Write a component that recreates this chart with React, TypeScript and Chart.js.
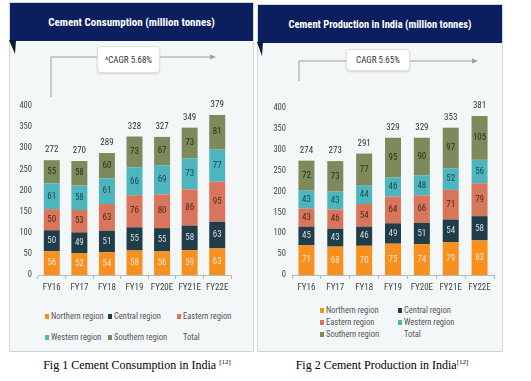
import React, { useEffect, useRef } from "react";
import { Chart, registerables } from "chart.js";
Chart.register(...registerables);

const years = ["FY16", "FY17", "FY18", "FY19", "FY20E", "FY21E", "FY22E"];
const seriesNames = ["Northern region", "Central region", "Eastern region", "Western region", "Southern region"];
const totalName = "Total";
const seriesColors = ["#f7901e", "#1f3e4a", "#d9755b", "#4db5be", "#7f8a5c"];
const labelColors = ["#fde7d2", "#d5dde0", "#4a2a20", "#1d4850", "#2b301c"];

const consNorthern = [56, 52, 54, 58, 56, 59, 63];
const consCentral = [50, 49, 51, 55, 55, 58, 63];
const consEastern = [50, 53, 63, 76, 80, 86, 95];
const consWestern = [61, 58, 61, 66, 69, 73, 77];
const consSouthern = [55, 58, 60, 73, 67, 73, 81];
const consTotal = [272, 270, 289, 328, 327, 349, 379];

const prodNorthern = [71, 68, 70, 75, 74, 79, 83];
const prodCentral = [45, 43, 46, 49, 51, 54, 58];
const prodEastern = [43, 46, 54, 64, 66, 71, 79];
const prodWestern = [43, 43, 44, 46, 48, 52, 56];
const prodSouthern = [72, 73, 77, 95, 90, 97, 105];
const prodTotal = [274, 273, 291, 329, 329, 353, 381];

const yMin = 0;
const yMax = 400;
const yStep = 50;

const consTitle = "Cement Consumption (million tonnes)";
const prodTitle = "Cement Production in India (million tonnes)";
const consCagr = "^CAGR 5.68%";
const prodCagr = "CAGR 5.65%";
const consCaption = "Fig 1 Cement Consumption in India ";
const prodCaption = "Fig 2 Cement Production in India";
const captionRef = "[12]";

const NARROW = '"Roboto Condensed", "Liberation Sans", sans-serif';
const SERIF = '"Liberation Serif", "Times New Roman", serif';

type ChartProps = {
  series: number[][];
  totals: number[];
  left: number;
  top: number;
  width: number;
  height: number;
  yAxisWidth: number;
  barPct: number;
};

function StackChart(p: ChartProps) {
  const ref = useRef<HTMLCanvasElement | null>(null);
  useEffect(() => {
    if (!ref.current) return;
    const labelPlugin = {
      id: "segLabels",
      afterDatasetsDraw(chart: any) {
        const ctx = chart.ctx;
        ctx.save();
        ctx.font = `9px ${NARROW}`;
        ctx.textAlign = "center";
        ctx.textBaseline = "middle";
        chart.data.datasets.forEach((ds: any, di: number) => {
          const meta = chart.getDatasetMeta(di);
          meta.data.forEach((el: any, i: number) => {
            const v = ds.data[i];
            ctx.fillStyle = labelColors[di];
            ctx.fillText(String(v), el.x, (el.y + el.base) / 2);
          });
        });
        const last = chart.getDatasetMeta(chart.data.datasets.length - 1);
        ctx.fillStyle = "#333";
        last.data.forEach((el: any, i: number) => {
          ctx.fillText(String(p.totals[i]), el.x, el.y - 10);
        });
        ctx.restore();
      },
    };
    const chart = new Chart(ref.current, {
      type: "bar",
      data: {
        labels: years,
        datasets: p.series.map((d, i) => ({
          label: seriesNames[i],
          data: d,
          backgroundColor: seriesColors[i],
          borderWidth: 0,
          categoryPercentage: 1,
          barPercentage: p.barPct,
        })),
      },
      options: {
        responsive: false,
        maintainAspectRatio: false,
        animation: false,
        layout: { padding: { top: 10, right: 2, left: 0, bottom: 0 } },
        plugins: { legend: { display: false }, tooltip: { enabled: false } },
        scales: {
          x: {
            stacked: true,
            offset: true,
            grid: { display: true, drawOnChartArea: false, drawTicks: true, tickLength: 4, color: "#b8b8b8", offset: true },
            border: { display: true, color: "#b8b8b8" },
            ticks: { color: "#444", font: { family: NARROW, size: 9 }, padding: 3, maxRotation: 0, autoSkip: false },
            afterFit: (s: any) => {
              s.height = 25;
            },
          },
          y: {
            stacked: true,
            min: yMin,
            max: yMax,
            ticks: { stepSize: yStep, color: "#444", font: { family: NARROW, size: 8.5 }, padding: 6 },
            grid: { display: false, drawTicks: false },
            border: { display: false },
            afterFit: (s: any) => {
              s.width = p.yAxisWidth;
            },
          },
        },
      } as any,
      plugins: [labelPlugin],
    });
    return () => chart.destroy();
  }, []);
  return (
    <canvas
      ref={ref}
      width={p.width}
      height={p.height}
      style={{ position: "absolute", left: p.left, top: p.top, width: p.width, height: p.height }}
    />
  );
}

type Pos = { x: number; y: number };

function Legend({ cells }: { cells: Pos[] }) {
  const names = [...seriesNames, totalName];
  return (
    <>
      {names.map((n, i) => (
        <div
          key={n}
          style={{
            position: "absolute",
            left: cells[i].x,
            top: cells[i].y - 6,
            height: 12,
            display: "flex",
            alignItems: "center",
            fontFamily: NARROW,
            fontSize: 8.5,
            color: "#555",
            whiteSpace: "nowrap",
          }}
        >
          <span
            style={{
              display: "inline-block",
              width: 4,
              height: 5,
              marginRight: 2,
              background: i < seriesColors.length ? seriesColors[i] : "transparent",
            }}
          />
          {n}
        </div>
      ))}
    </>
  );
}

function Panel(props: {
  left: number;
  top: number;
  width: number;
  height: number;
  headerH: number;
  title: string;
  titleSize: number;
}) {
  return (
    <div
      style={{
        position: "absolute",
        left: props.left,
        top: props.top,
        width: props.width,
        height: props.height,
        background: "#f4f7f8",
        border: "1px solid #cfd5d8",
        boxSizing: "border-box",
      }}
    >
      <div
        style={{
          height: props.headerH,
          background: "#0b1f5e",
          color: "#fff",
          fontFamily: NARROW,
          fontWeight: "bold",
          fontSize: props.titleSize,
          display: "flex",
          alignItems: "center",
          justifyContent: "center",
        }}
      >
        {props.title}
      </div>
    </div>
  );
}

const cagrBox: React.CSSProperties = {
  position: "absolute",
  background: "#fff",
  border: "1px solid #e0e0e0",
  borderRadius: 4,
  boxShadow: "0 1px 2px rgba(0,0,0,0.15)",
  boxSizing: "border-box",
  display: "flex",
  alignItems: "center",
  justifyContent: "center",
  fontFamily: NARROW,
  fontSize: 9,
  color: "#333",
};

const captionStyle: React.CSSProperties = {
  position: "absolute",
  top: 358,
  width: 260,
  textAlign: "center",
  fontFamily: SERIF,
  fontSize: 12,
  color: "#000",
  whiteSpace: "nowrap",
};

export default function App() {
  useEffect(() => {
    document.body.style.margin = "0";
  }, []);
  return (
    <div style={{ position: "fixed", left: 0, top: 0, width: 531, height: 381, background: "#fff", overflow: "hidden" }}>
      <Panel left={9} top={2} width={245} height={350} headerH={38} title={consTitle} titleSize={11} />
      <Panel left={257} top={4} width={246} height={348} headerH={38} title={prodTitle} titleSize={10.5} />

      <svg width={531} height={381} style={{ position: "absolute", left: 0, top: 0 }}>
        <polygon points="9,40 16,40 15,54" fill="#0d1a30" />
        <polygon points="257,42 263,42 262,56" fill="#0d1a30" />
        <polyline points="51,97 51,57 213,57" fill="none" stroke="#a0a0a0" strokeWidth={1} />
        <polygon points="216,57 210,54.5 210,59.5" fill="#a0a0a0" />
        <polyline points="299,81 299,61 475,61" fill="none" stroke="#a0a0a0" strokeWidth={1} />
        <polygon points="478,61 472,58.5 472,63.5" fill="#a0a0a0" />
      </svg>

      <div style={{ ...cagrBox, left: 97, top: 46, width: 63, height: 27 }}>{consCagr}</div>
      <div style={{ ...cagrBox, left: 346, top: 49, width: 64, height: 22 }}>{prodCagr}</div>

      <StackChart
        series={[consNorthern, consCentral, consEastern, consWestern, consSouthern]}
        totals={consTotal}
        left={14}
        top={95}
        width={219}
        height={205}
        yAxisWidth={24}
        barPct={0.58}
      />
      <StackChart
        series={[prodNorthern, prodCentral, prodEastern, prodWestern, prodSouthern]}
        totals={prodTotal}
        left={268}
        top={97}
        width={228}
        height={203}
        yAxisWidth={24}
        barPct={0.555}
      />

      <Legend
        cells={[
          { x: 45, y: 316 },
          { x: 108, y: 316 },
          { x: 177, y: 316 },
          { x: 45, y: 337 },
          { x: 108, y: 337 },
          { x: 177, y: 337 },
        ]}
      />
      <Legend
        cells={[
          { x: 320, y: 310 },
          { x: 398, y: 310 },
          { x: 320, y: 322 },
          { x: 398, y: 322 },
          { x: 320, y: 334 },
          { x: 398, y: 334 },
        ]}
      />

      <div style={{ ...captionStyle, left: 7 }}>
        {consCaption}
        <sup style={{ fontSize: 7 }}>{captionRef}</sup>
      </div>
      <div style={{ ...captionStyle, left: 252 }}>
        {prodCaption}
        <sup style={{ fontSize: 7 }}>{captionRef}</sup>
      </div>
    </div>
  );
}
